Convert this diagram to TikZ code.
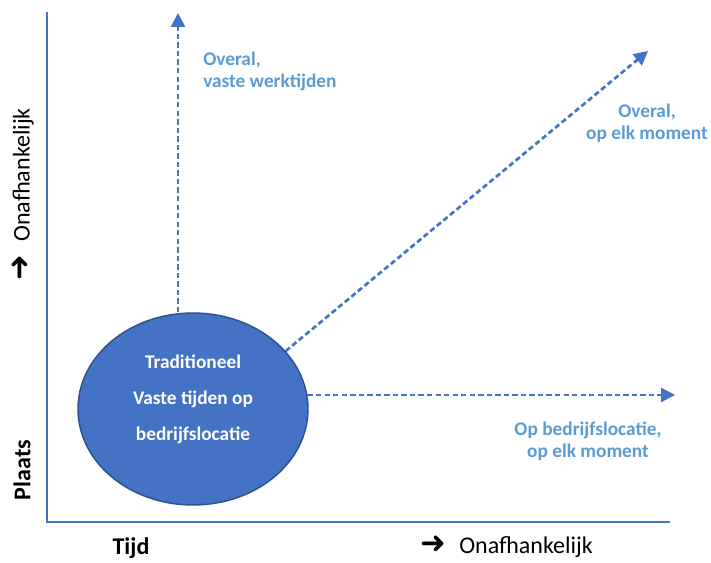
\documentclass[tikz,border=0pt]{standalone}
\usepackage{fontspec}
\setmainfont{Carlito}
\newfontfamily\arrowfont{DejaVu Sans}
\usetikzlibrary{arrows.meta,shapes.geometric,positioning}
\definecolor{axisblue}{HTML}{4472C4}
\definecolor{rimblue}{HTML}{2F528F}
\definecolor{labelblue}{HTML}{5B9BD5}

\begin{document}
\begin{tikzpicture}[x=0.75pt,y=0.75pt,
        axis/.style={draw=axisblue, line width=1.5pt},
        route/.style={draw=axisblue, line width=2pt, dash pattern=on 4pt off 2.4pt,
            -{Triangle[length=10.5pt,width=10.5pt]}},
        bubble/.style={ellipse, draw=rimblue, fill=axisblue, line width=1.1pt,
            minimum width=172.5pt, minimum height=144pt, inner sep=0pt},
        bubbletext/.style={text=white, align=center, inner sep=0pt,
            font=\fontsize{14.5}{27}\selectfont\bfseries},
        routelabel/.style={text=labelblue, inner sep=0pt,
            font=\fontsize{14.5}{16.5}\selectfont\bfseries},
        axislabel/.style={inner sep=0pt, font=\fontsize{18}{20}\selectfont}]
        \useasboundingbox (0,0) rectangle (711,562);

        % Axes
        \coordinate (ytop) at (47,550);
        \coordinate (origin) at (47,40);
        \coordinate (xend) at (670,40);
        \draw[axis] (ytop) -- (origin) -- (xend);

        % Starting point
        \node[bubble] (trad) at (193,153) {};
        \node[bubbletext] (tradtext) at ([yshift=7.5pt]trad.center)
            {Traditioneel\\Vaste tijden op\\bedrijfslocatie};

        % Routes
        \coordinate (vtip) at (178,549);
        \coordinate (dtip) at (648,511);
        \coordinate (htip) at (675,166);
        \draw[route] (vtip |- trad.north) -- (vtip);
        \draw[route] (trad.32) -- (dtip);
        \draw[route] (trad.7) -- (trad.7 -| htip);

        % Route labels
        \node[routelabel, anchor=west, align=left] (anywhere) at (203,491)
            {Overal,\\vaste werktijden};
        \node[routelabel, align=center] (anytime) at (647,439)
            {Overal,\\op elk moment};
        \node[routelabel, align=center] (onsite) at (588,121)
            {Op bedrijfslocatie,\\op elk moment};

        % Axis labels
        \node[axislabel, font=\fontsize{18}{20}\selectfont\bfseries] (tijd) at (131,14) {Tijd};
        \node[axislabel, anchor=west] (tijdfree) at (420,15)
            {{\arrowfont\bfseries\fontsize{23}{24}\selectfont ➜}\hspace{10pt}Onafhankelijk};
        \node[axislabel, font=\fontsize{18}{20}\selectfont\bfseries, rotate=90] (plaats) at (22,92) {Plaats};
        \node[axislabel, anchor=west, rotate=90] (plaatsfree) at (23,281)
            {{\arrowfont\bfseries\fontsize{23}{24}\selectfont ➜}\hspace{10pt}Onafhankelijk};
\end{tikzpicture}
\end{document}
